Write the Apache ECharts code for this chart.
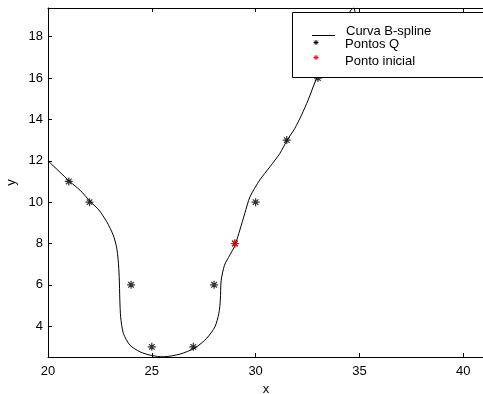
<!DOCTYPE html>
<html><head><meta charset="utf-8">
<script src="https://cdn.jsdelivr.net/npm/echarts@6/dist/echarts.min.js"></script>
<style>html,body{margin:0;padding:0;background:#fff}#c{width:483px;height:394px}</style>
</head><body><div id="c"></div>
<script>
// B-spline curve samples
const curveX = [20, 21.06, 21.54, 22.07, 22.45, 22.83, 23.14, 23.3, 23.38, 23.43, 23.46, 23.5, 23.63, 23.95, 24.43, 25.0, 25.55, 26.36, 27.08, 27.64, 28.04, 28.23, 28.3, 28.34, 28.5, 28.76, 29.0, 29.24, 29.48, 29.73, 30.2, 30.69, 31.17, 31.52, 31.89, 32.21, 32.53, 32.94, 33.6, 34.2, 34.6, 34.72, 34.85, 35.3, 36.5, 38.5, 41];
const curveY = [12, 10.99, 10.58, 10.0, 9.62, 9.05, 8.41, 7.84, 7.2, 6.39, 5.26, 4.45, 3.65, 3.08, 2.76, 2.58, 2.52, 2.65, 2.95, 3.41, 3.97, 4.62, 5.26, 6.2, 6.95, 7.44, 7.9, 8.65, 9.46, 10.26, 11.07, 11.71, 12.36, 13.0, 13.57, 14.21, 14.94, 16.0, 17.4, 18.6, 19.3, 19.39, 19.0, 18.4, 17.8, 17.5, 17.3];
// Control points Q
const qX = [21, 22, 24, 25, 27, 28, 29, 30, 31.5, 33];
const qY = [11, 10, 6, 3, 3, 6, 8, 10, 13, 16];
// Initial point
const p0X = [29];
const p0Y = [8];
// Ticks
const xTicks = [20, 25, 30, 35, 40];
const yTicks = [4, 6, 8, 10, 12, 14, 16, 18];
const legendNames = ['Curva B-spline', 'Pontos Q', 'Ponto inicial'];

const star = 'path://M5,0L5,10M0,5L10,5M1.5,1.5L8.5,8.5M1.5,8.5L8.5,1.5';
const zip = (a, b) => a.map((v, i) => [v, b[i]]);
const font = 'Liberation Sans, Arial, sans-serif';

function smallStar(cx, cy, color) {
  const r = 2.5, d = 1.8;
  const segs = [[cx - r, cy, cx + r, cy], [cx, cy - r, cx, cy + r],
                [cx - d, cy - d, cx + d, cy + d], [cx - d, cy + d, cx + d, cy - d]];
  return segs.map(s => ({type: 'line', z: 110, shape: {x1: s[0], y1: s[1], x2: s[2], y2: s[3]},
                         style: {stroke: color, lineWidth: 1}}));
}

const chart = echarts.init(document.getElementById('c'), null, {renderer: 'canvas'});
chart.setOption({
  animation: false,
  backgroundColor: '#fff',
  grid: {left: 48, top: 8, right: -1, bottom: 37, show: false, containLabel: false, outerBoundsMode: 'none'},
  xAxis: [{
    type: 'value', min: 20, max: 41, position: 'bottom',
    name: 'x', nameLocation: 'middle', nameGap: 24,
    nameTextStyle: {color: '#000', fontSize: 13, fontFamily: font},
    axisLine: {show: true, onZero: false, lineStyle: {color: '#000', width: 1}},
    axisTick: {show: true, inside: true, length: 4, lineStyle: {color: '#000'}, customValues: xTicks},
    axisLabel: {color: '#000', fontSize: 13, fontFamily: font, margin: 8, customValues: xTicks},
    splitLine: {show: false}
  }, {
    type: 'value', min: 20, max: 41, position: 'top',
    axisLine: {show: true, onZero: false, lineStyle: {color: '#000', width: 1}},
    axisTick: {show: true, inside: true, length: 4, lineStyle: {color: '#000'}, customValues: xTicks},
    axisLabel: {show: false},
    splitLine: {show: false}
  }],
  yAxis: [{
    type: 'value', min: 2.51, max: 19.39, position: 'left',
    name: 'y', nameLocation: 'middle', nameGap: 23, nameRotate: 90,
    nameTextStyle: {color: '#000', fontSize: 13, fontFamily: font},
    axisLine: {show: true, onZero: false, lineStyle: {color: '#000', width: 1}},
    axisTick: {show: true, inside: true, length: 4, lineStyle: {color: '#000'}, customValues: yTicks},
    axisLabel: {color: '#000', fontSize: 13, fontFamily: font, margin: 5, customValues: yTicks},
    splitLine: {show: false}
  }],
  series: [{
    name: legendNames[0], type: 'line', data: zip(curveX, curveY),
    showSymbol: false, smooth: 0.25, z: 2,
    lineStyle: {color: '#000', width: 1}
  }, {
    name: legendNames[1], type: 'scatter', data: zip(qX, qY),
    symbol: star, symbolSize: 8, z: 3,
    itemStyle: {color: 'transparent', borderColor: '#000', borderWidth: 1.2}
  }, {
    name: legendNames[2], type: 'scatter', data: zip(p0X, p0Y),
    symbol: star, symbolSize: 8, z: 4,
    itemStyle: {color: 'transparent', borderColor: '#ff0000', borderWidth: 1.2}
  }],
  graphic: [
    {type: 'rect', z: 100, shape: {x: 292.5, y: 12.5, width: 200, height: 65},
     style: {fill: '#fff', stroke: '#000', lineWidth: 1}},
    {type: 'line', z: 110, shape: {x1: 312, y1: 35.5, x2: 335, y2: 35.5}, style: {stroke: '#000', lineWidth: 1}},
    ...smallStar(316, 42.5, '#000'),
    ...smallStar(316, 57.5, '#ff0000'),
    {type: 'text', z: 110, x: 346, y: 31, style: {text: legendNames[0], fill: '#000', font: '13px ' + font, verticalAlign: 'middle'}},
    {type: 'text', z: 110, x: 345, y: 44.5, style: {text: legendNames[1], fill: '#000', font: '13px ' + font, verticalAlign: 'middle'}},
    {type: 'text', z: 110, x: 345, y: 61, style: {text: legendNames[2], fill: '#000', font: '13px ' + font, verticalAlign: 'middle'}}
  ]
});
</script></body></html>
